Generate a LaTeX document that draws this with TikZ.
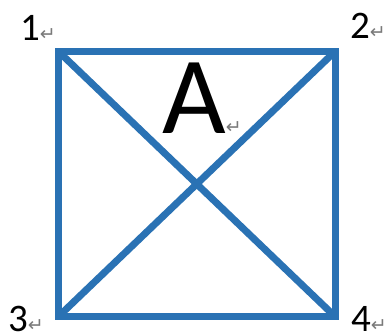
\documentclass[tikz,border=0pt]{standalone}
\usepackage{fontspec}
\setmainfont{Carlito}
\newfontfamily\markfont{DejaVu Sans}
\definecolor{sqblue}{HTML}{2A72B4}
\definecolor{markgray}{HTML}{7A7A7A}
\newcommand{\parmark}{{\markfont\fontsize{19}{19}\selectfont\color{markgray}\smash{↵}}}
\begin{document}
\begin{tikzpicture}[x=1pt,y=-1pt,
  edge/.style={draw=sqblue,line width=7pt,line join=miter},
  corner/.style={inner sep=0pt,anchor=base west,font=\fontsize{39}{39}\selectfont},
  biglabel/.style={inner sep=0pt,anchor=base west,font=\fontsize{110}{110}\selectfont}]
\useasboundingbox[fill=white] (0,0) rectangle (392,335);
\coordinate (c1) at (58.5,51.5);
\coordinate (c2) at (335,51.5);
\coordinate (c3) at (58.5,316.5);
\coordinate (c4) at (335,316.5);
\draw[edge] (c1) rectangle (c4);
\draw[edge] (c1) -- (c4);
\draw[edge] (c2) -- (c3);
\node[corner] (l1) at (20,40) {1\parmark};
\node[corner] (l2) at (350,38) {2\parmark};
\node[corner] (l3) at (8,331) {3\parmark};
\node[corner] (l4) at (351,331) {4\parmark};
\node[biglabel] (la) at (162,133) {A\parmark};
\end{tikzpicture}
\end{document}
